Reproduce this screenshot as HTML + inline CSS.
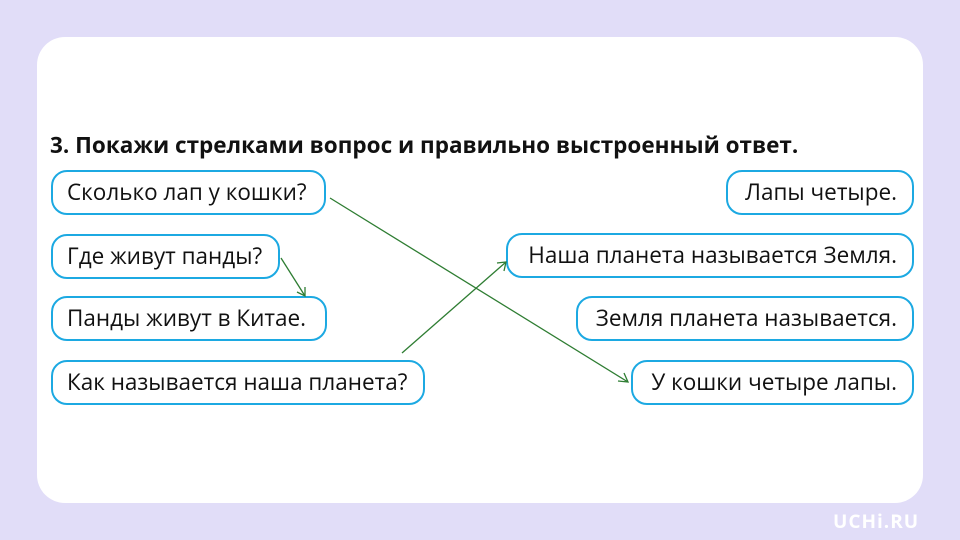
<!DOCTYPE html>
<html><head><meta charset="utf-8"><style>
body{margin:0;width:960px;height:540px;background:#e1ddf8;position:relative;overflow:hidden;font-family:"Open Sans","Liberation Sans","DejaVu Sans",sans-serif}
.panel{position:absolute;left:37px;top:37px;width:886px;height:466px;background:#fff;border-radius:28px}
.t{position:absolute;left:50px;top:129px;font-size:22.5px;font-weight:bold;color:#111;white-space:nowrap}
.b{position:absolute;box-sizing:border-box;height:45px;border:2px solid #1ca9e2;border-radius:16px;font-size:22.5px;color:#111;line-height:40px;white-space:nowrap;background:#fff}
.l{padding-left:14px}.r{text-align:right;padding-right:15px}
.logo{position:absolute;left:833px;top:508px;color:#fff;font-weight:bold;font-size:19px;letter-spacing:1px}
svg{position:absolute;left:0;top:0}
</style></head><body>
<div class="panel"></div>
<div class="t">3. Покажи стрелками вопрос и правильно выстроенный ответ.</div>
<div class="b l" style="left:51px;top:170px;width:275px">Сколько лап у кошки?</div>
<div class="b l" style="left:51px;top:234px;width:229px">Где живут панды?</div>
<div class="b l" style="left:51px;top:296px;width:276px">Панды живут в Китае.</div>
<div class="b l" style="left:51px;top:360px;width:374px">Как называется наша планета?</div>
<div class="b r" style="left:726px;top:170px;width:188px">Лапы четыре.</div>
<div class="b r" style="left:506px;top:233px;width:408px">Наша планета называется Земля.</div>
<div class="b r" style="left:576px;top:296px;width:338px">Земля планета называется.</div>
<div class="b r" style="left:631px;top:360px;width:283px">У кошки четыре лапы.</div>
<svg width="960" height="540"><g stroke="#2e7d32" stroke-width="1.3" fill="none">
<line x1="330" y1="198" x2="628" y2="382"/><polyline points="618,381 628,382 624,373"/>
<line x1="281" y1="258" x2="305" y2="296"/><polyline points="297,292 305,296 305,287"/>
<line x1="402" y1="353" x2="506" y2="262"/><polyline points="497,263 506,262 504,271"/>
</g></svg>
<div class="logo">UCHi.RU</div>
</body></html>
